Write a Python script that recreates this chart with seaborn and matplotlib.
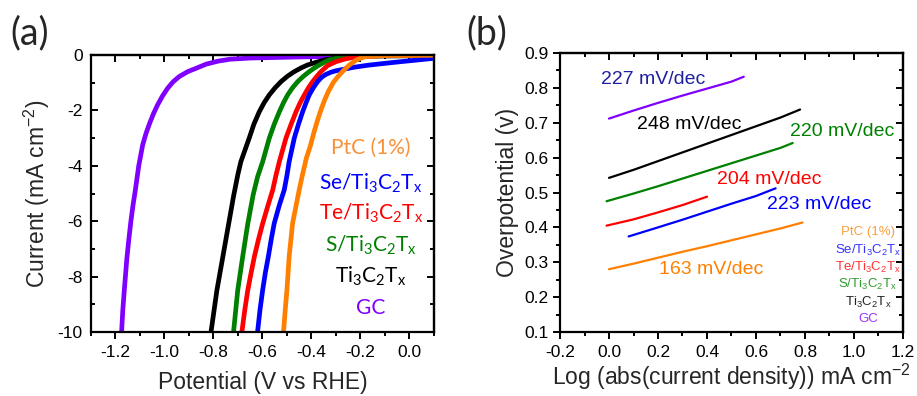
import numpy as np
import pandas as pd
import matplotlib
matplotlib.use("Agg")
import matplotlib.pyplot as plt
from matplotlib.ticker import MultipleLocator, NullFormatter
import seaborn as sns

sns.set_theme(style="ticks")
plt.rcParams['font.family'] = ['Liberation Sans', 'DejaVu Sans']
plt.rcParams['mathtext.default'] = 'regular'

# ---------------- Panel (a): LSV curves (potential V vs RHE, current mA cm-2) ----------------
gc_v = [-1.175, -1.170, -1.164, -1.154, -1.146, -1.137, -1.128, -1.120, -1.105, -1.089, -1.076, -1.062, -1.045,
        -1.028, -1.008, -0.987, -0.965, -0.940, -0.905, -0.871, -0.830, -0.780, -0.730, -0.650, -0.550, -0.450, -0.300]
gc_i = [-10.0, -9.2, -8.5, -7.4, -6.7, -6.0, -5.4, -4.95, -4.0, -3.25, -2.85, -2.5, -2.12,
        -1.8, -1.48, -1.2, -0.97, -0.78, -0.6, -0.48, -0.33, -0.22, -0.15, -0.11, -0.09, -0.07, -0.05]

ti_v = [-0.810, -0.786, -0.762, -0.740, -0.718, -0.700, -0.688, -0.654, -0.635, -0.613, -0.593, -0.572, -0.548,
        -0.524, -0.497, -0.470, -0.443, -0.416, -0.380, -0.348, -0.300, -0.250, -0.150, 0.100]
ti_i = [-10.0, -8.5, -7.3, -6.2, -5.1, -4.3, -3.85, -3.0, -2.5, -2.05, -1.72, -1.44, -1.18,
        -0.96, -0.76, -0.6, -0.47, -0.36, -0.26, -0.18, -0.11, -0.07, -0.04, -0.02]

s_v = [-0.718, -0.701, -0.681, -0.660, -0.638, -0.620, -0.599, -0.572, -0.552, -0.531, -0.514, -0.497, -0.477,
       -0.456, -0.433, -0.409, -0.388, -0.368, -0.347, -0.327, -0.290, -0.250, -0.150, 0.100]
s_i = [-10.0, -8.5, -7.3, -6.1, -5.05, -4.4, -3.85, -3.0, -2.5, -2.05, -1.72, -1.44, -1.18,
       -0.96, -0.77, -0.6, -0.47, -0.36, -0.26, -0.18, -0.1, -0.05, -0.02, -0.01]

te_v = [-0.684, -0.672, -0.660, -0.646, -0.633, -0.616, -0.599, -0.578, -0.558, -0.545, -0.531, -0.504, -0.483,
        -0.463, -0.446, -0.429, -0.412, -0.395, -0.378, -0.361, -0.334, -0.300, -0.265, -0.239, -0.200, -0.100, 0.100]
te_i = [-10.0, -9.2, -8.5, -7.85, -7.28, -6.65, -6.08, -5.45, -4.87, -4.35, -3.85, -3.0, -2.5,
        -2.05, -1.72, -1.44, -1.18, -0.96, -0.77, -0.6, -0.38, -0.24, -0.15, -0.1, -0.05, -0.02, -0.01]

se_v = [-0.620, -0.610, -0.599, -0.588, -0.576, -0.564, -0.552, -0.532, -0.511, -0.500, -0.491, -0.470, -0.453,
        -0.436, -0.422, -0.409, -0.392, -0.375, -0.358, -0.341, -0.320, -0.300, -0.260, -0.225, -0.170, -0.120,
        -0.035, 0.100]
se_i = [-10.0, -9.2, -8.48, -7.85, -7.28, -6.65, -6.08, -5.45, -4.87, -4.35, -3.85, -3.0, -2.5,
        -2.05, -1.72, -1.44, -1.18, -0.96, -0.8, -0.7, -0.62, -0.57, -0.5, -0.44, -0.37, -0.32,
        -0.24, -0.12]

pt_v = [-0.514, -0.507, -0.500, -0.491, -0.477, -0.463, -0.450, -0.436, -0.420, -0.405, -0.390, -0.375, -0.360,
        -0.345, -0.330, -0.310, -0.290, -0.267, -0.245, -0.220, -0.200, -0.180, -0.100, 0.100]
pt_i = [-10.0, -9.2, -8.48, -7.28, -6.08, -5.45, -4.87, -4.3, -3.7, -3.3, -2.8, -2.35, -1.95,
        -1.6, -1.3, -0.98, -0.76, -0.54, -0.36, -0.2, -0.12, -0.06, -0.02, -0.01]

names_a = ["GC", "Ti3C2Tx", "S/Ti3C2Tx", "Te/Ti3C2Tx", "Se/Ti3C2Tx", "PtC (1%)"]
colors_a = ["#8000FF", "#000000", "#008000", "#FF0000", "#0000FF", "#FF8000"]

# ---------------- Panel (b): Tafel lines ----------------
pt_logj = [0.0, 0.1, 0.2, 0.3, 0.4, 0.5, 0.6, 0.7, 0.79]
pt_eta = [0.280, 0.296, 0.313, 0.330, 0.346, 0.363, 0.380, 0.397, 0.414]
se_logj = [0.08, 0.2, 0.3, 0.4, 0.5, 0.6, 0.68]
se_eta = [0.374, 0.400, 0.422, 0.445, 0.468, 0.490, 0.512]
te_logj = [-0.01, 0.1, 0.2, 0.3, 0.4]
te_eta = [0.405, 0.423, 0.443, 0.464, 0.488]
s_logj = [-0.01, 0.1, 0.2, 0.3, 0.4, 0.5, 0.6, 0.7, 0.75]
s_eta = [0.475, 0.497, 0.518, 0.540, 0.562, 0.584, 0.606, 0.628, 0.642]
ti_logj = [0.0, 0.1, 0.2, 0.3, 0.4, 0.5, 0.6, 0.7, 0.78]
ti_eta = [0.542, 0.565, 0.590, 0.615, 0.640, 0.665, 0.690, 0.715, 0.738]
gc_logj = [0.0, 0.1, 0.2, 0.3, 0.4, 0.5, 0.55]
gc_eta = [0.712, 0.735, 0.757, 0.778, 0.798, 0.818, 0.832]

slope_labels = ["163 mV/dec", "223 mV/dec", "204 mV/dec", "220 mV/dec", "248 mV/dec", "227 mV/dec"]
slope_colors = ["#FF8000", "#0000FF", "#FF0000", "#008000", "#000000", "#1F1F9F"]
slope_x = [0.205, 0.646, 0.442, 0.739, 0.113, -0.034]
slope_y = [0.278, 0.466, 0.536, 0.674, 0.696, 0.823]

fig = plt.figure(figsize=(9.17, 3.96), dpi=100)
axa = fig.add_axes([0.0992, 0.1616, 0.374, 0.6995])
axb = fig.add_axes([0.6107, 0.1616, 0.374, 0.7045])

# ---- (a)
frames = []
for n, v, i in zip(names_a, [gc_v, ti_v, s_v, te_v, se_v, pt_v], [gc_i, ti_i, s_i, te_i, se_i, pt_i]):
    frames.append(pd.DataFrame({"V": v, "I": i, "sample": n}))
dfa = pd.concat(frames, ignore_index=True)
for n, c in zip(names_a, colors_a):
    sub = dfa[dfa["sample"] == n]
    sns.lineplot(data=sub, x="V", y="I", ax=axa, color=c, lw=3.4, sort=False,
                 estimator=None, legend=False)
axa.set_xlim(-1.3, 0.1)
axa.set_ylim(-10, 0)
axa.set_xticks(np.arange(-1.2, 0.01, 0.2))
axa.set_xticklabels(["-1.2", "-1.0", "-0.8", "-0.6", "-0.4", "-0.2", "0.0"])
axa.xaxis.set_minor_locator(MultipleLocator(0.1))
axa.set_yticks([0, -2, -4, -6, -8, -10])
axa.set_yticklabels(["0", "-2", "-4", "-6", "-8", "-10"])
axa.yaxis.set_minor_locator(MultipleLocator(1))
axa.set_xlabel("Potential (V vs RHE)", fontsize=16.5, labelpad=8)
axa.set_ylabel("Current (mA cm$^{-2}$)", fontsize=16.5, labelpad=4)

leg_a_text = ["PtC (1%)", "Se/Ti$_3$C$_2$T$_x$", "Te/Ti$_3$C$_2$T$_x$", "S/Ti$_3$C$_2$T$_x$", "Ti$_3$C$_2$T$_x$", "GC"]
leg_a_col = ["#F7923A", "#0000FF", "#FF0000", "#008000", "#000000", "#8000FF"]
leg_a_y = [-3.37, -4.62, -5.72, -6.86, -8.0, -9.14]
for t, c, y in zip(leg_a_text, leg_a_col, leg_a_y):
    axa.text(-0.157, y, t, color=c, fontsize=15, family="Lato", ha="center", va="center")

# ---- (b)
frames = []
for n, x, y in zip(["PtC", "Se", "Te", "S", "Ti", "GC"],
                   [pt_logj, se_logj, te_logj, s_logj, ti_logj, gc_logj],
                   [pt_eta, se_eta, te_eta, s_eta, ti_eta, gc_eta]):
    frames.append(pd.DataFrame({"logj": x, "eta": y, "sample": n}))
dfb = pd.concat(frames, ignore_index=True)
line_cols_b = ["#FF8000", "#0000FF", "#FF0000", "#008000", "#000000", "#8000FF"]
for n, c in zip(["PtC", "Se", "Te", "S", "Ti", "GC"], line_cols_b):
    sub = dfb[dfb["sample"] == n]
    sns.lineplot(data=sub, x="logj", y="eta", ax=axb, color=c, lw=1.6, sort=False,
                 estimator=None, legend=False)
axb.set_xlim(-0.2, 1.2)
axb.set_ylim(0.1, 0.9)
axb.set_xticks(np.arange(-0.2, 1.21, 0.2))
axb.set_xticklabels(["-0.2", "0.0", "0.2", "0.4", "0.6", "0.8", "1.0", "1.2"])
axb.xaxis.set_minor_locator(MultipleLocator(0.1))
axb.set_yticks(np.arange(0.1, 0.91, 0.1))
axb.set_yticklabels(["0.1", "0.2", "0.3", "0.4", "0.5", "0.6", "0.7", "0.8", "0.9"])
axb.yaxis.set_minor_locator(MultipleLocator(0.05))
axb.set_xlabel("Log (abs(current density)) mA cm$^{-2}$", fontsize=16.5, labelpad=2)
axb.set_ylabel("Overpotential (v)", fontsize=16.5, labelpad=4)

for t, c, x, y in zip(slope_labels, slope_colors, slope_x, slope_y):
    axb.text(x, y, t, color=c, fontsize=14, ha="left", va="center")

leg_b_col = ["#F7A040", "#3333FF", "#FF3333", "#2E9B2E", "#222222", "#9933FF"]
leg_b_y = [0.386, 0.335, 0.284, 0.235, 0.185, 0.136]
for t, c, y in zip(leg_a_text, leg_b_col, leg_b_y):
    axb.text(1.057, y, t, color=c, fontsize=9.5, ha="center", va="center")


def style(ax, left_dir):
    for s in ax.spines.values():
        s.set_visible(True)
        s.set_linewidth(1.6)
        s.set_color("black")
    ax.grid(False)
    ax.tick_params(which="both", top=False, right=False, labelsize=12.5, colors="black", width=1.4)
    ax.tick_params(which="major", length=5)
    ax.tick_params(which="minor", length=3)
    ax.tick_params(axis="x", which="both", direction="out", pad=4)
    ax.tick_params(axis="y", which="both", direction=left_dir, pad=6 if left_dir == "in" else 3)
    # inward ticks on top and right
    top = ax.secondary_xaxis("top")
    top.set_xticks(ax.get_xticks())
    top.xaxis.set_minor_locator(MultipleLocator(ax.xaxis.get_minor_locator()._edge.step))
    top.tick_params(which="both", direction="in", labeltop=False, width=1.4, colors="black")
    top.tick_params(which="major", length=5)
    top.tick_params(which="minor", length=3)
    top.spines["top"].set_linewidth(1.6)
    right = ax.secondary_yaxis("right")
    right.set_yticks(ax.get_yticks())
    right.yaxis.set_minor_locator(MultipleLocator(ax.yaxis.get_minor_locator()._edge.step))
    right.tick_params(which="both", direction="in", labelright=False, width=1.4, colors="black")
    right.tick_params(which="major", length=5)
    right.tick_params(which="minor", length=3)
    right.spines["right"].set_linewidth(1.6)


style(axa, "in")
style(axb, "out")

fig.text(0.011, 0.915, "(a)", fontsize=27, family="Lato", ha="left", va="center")
fig.text(0.509, 0.915, "(b)", fontsize=27, family="Lato", ha="left", va="center")

fig.savefig("out.png", dpi=100)
